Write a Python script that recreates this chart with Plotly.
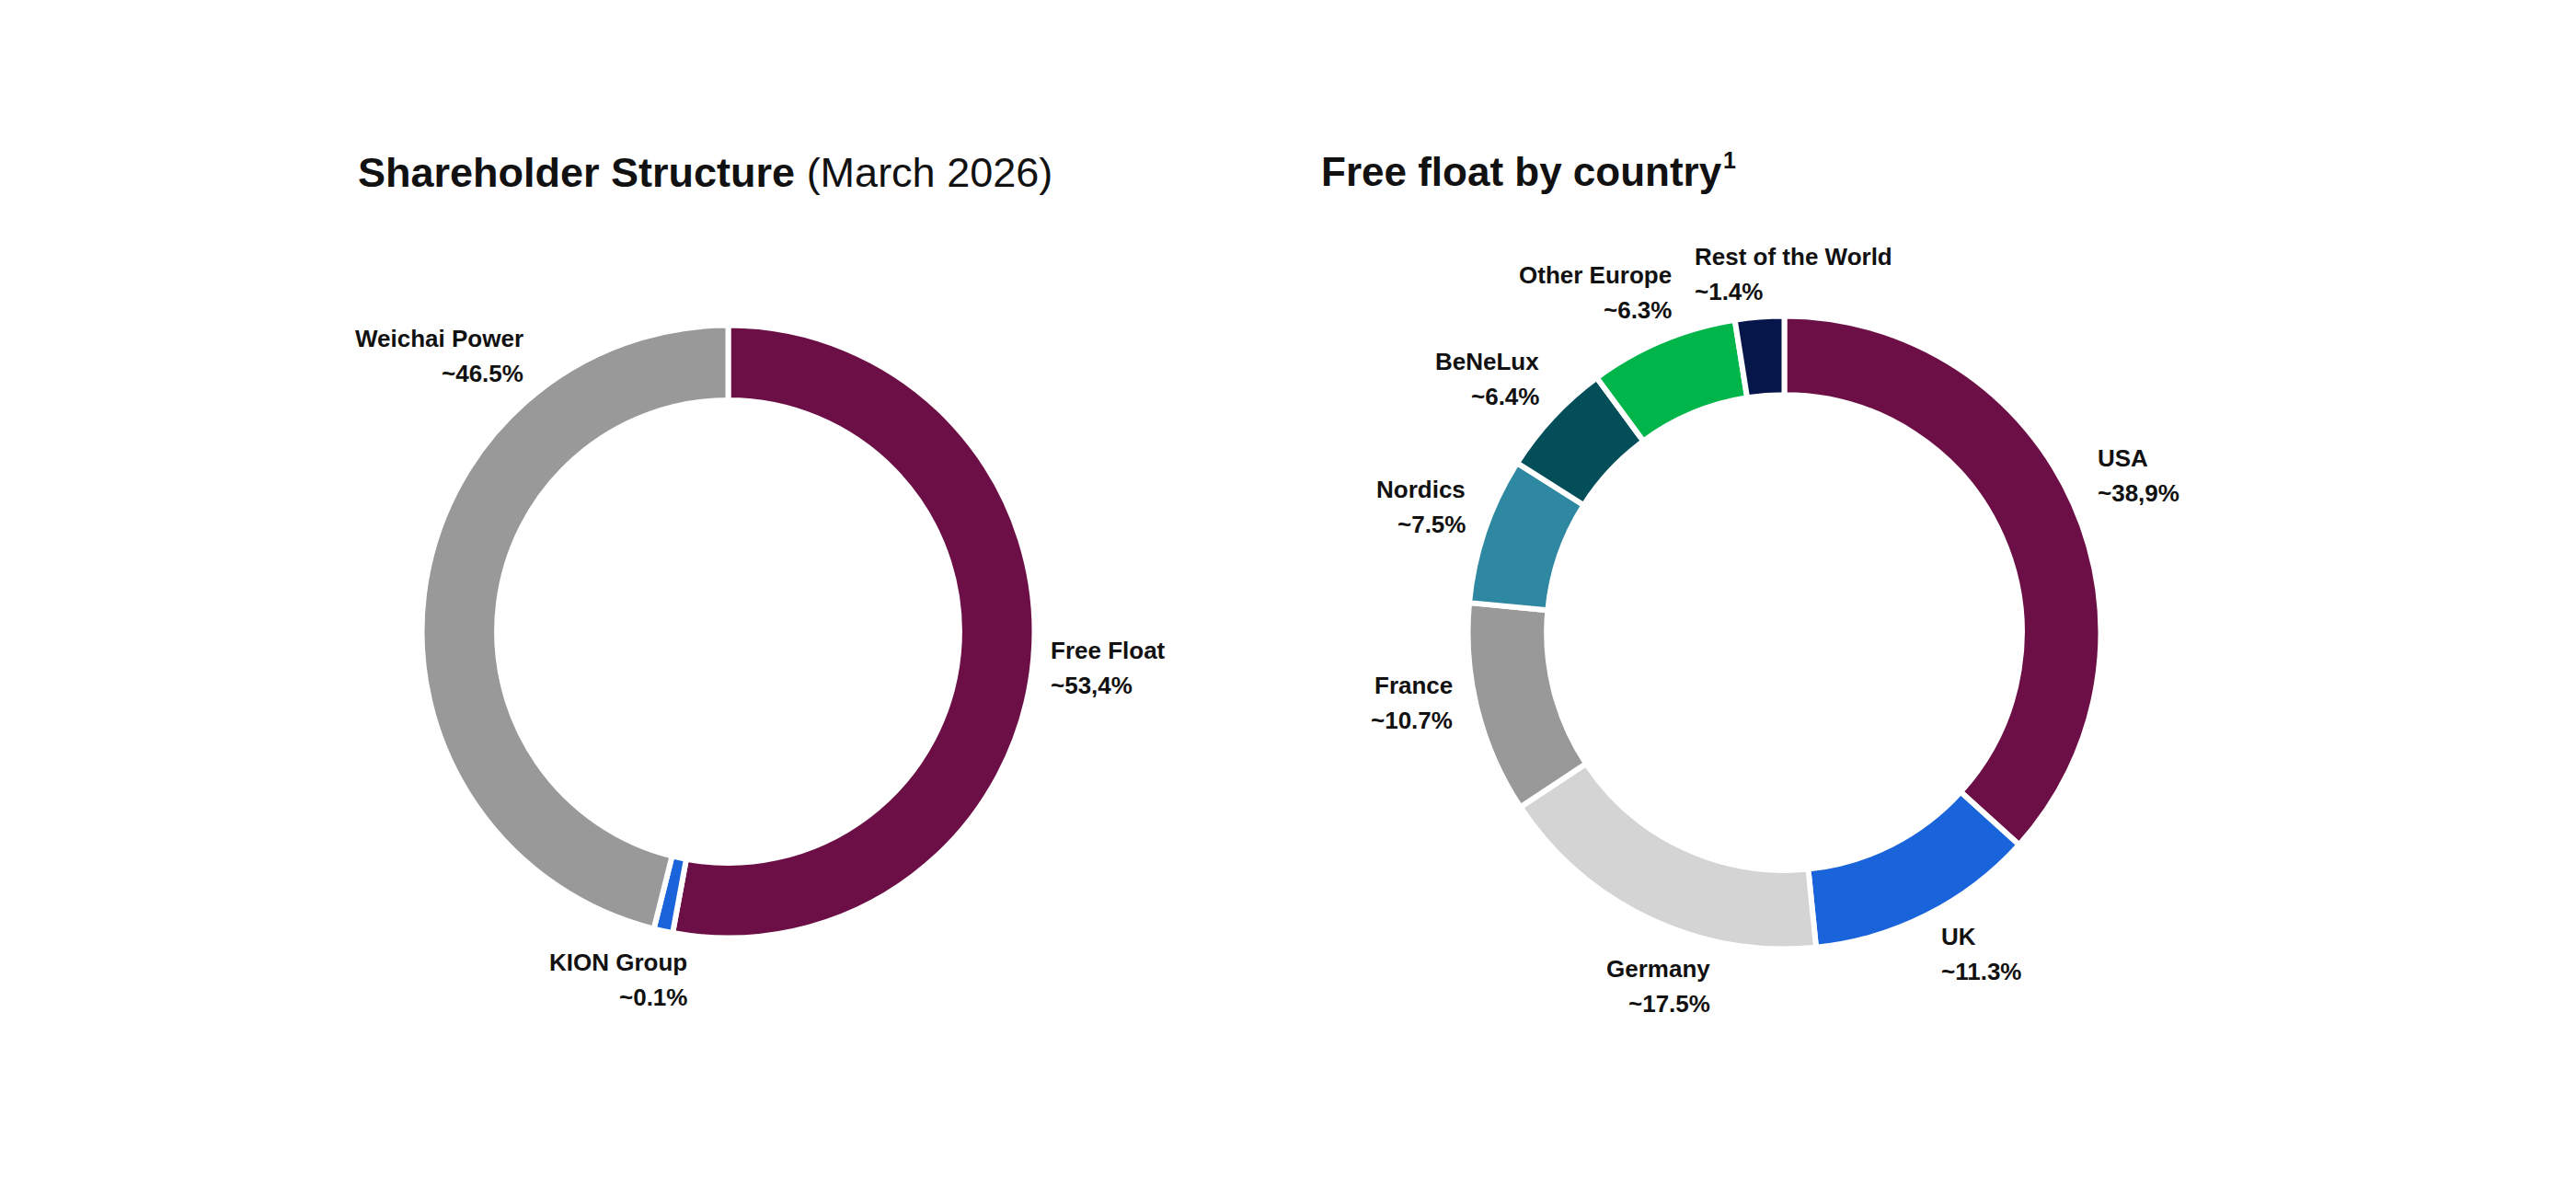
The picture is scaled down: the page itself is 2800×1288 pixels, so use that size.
import plotly.graph_objects as go

W, H = 2800, 1288
OFF = 8  # page body margin in the browser

# ---------------- data ----------------
holders = ["Free Float", "KION Group", "Weichai Power"]
holder_labels = ["~53,4%", "~0.1%", "~46.5%"]
holder_slices = [52.9, 1.0, 46.1]          # slice sizes as drawn
holder_colors = ["#6C0F47", "#1A64DB", "#999999"]

countries = ["USA", "UK", "Germany", "France", "Nordics", "BeNeLux",
             "Other Europe", "Rest of the World"]
country_labels = ["~38,9%", "~11.3%", "~17.5%", "~10.7%", "~7.5%", "~6.4%",
                  "~6.3%", "~1.4%"]
country_slices = [36.7, 11.7, 17.3, 10.8, 7.5, 5.9, 7.6, 2.5]  # as drawn
country_colors = ["#6C0F47", "#1A64DB", "#D4D4D4", "#999999", "#2F88A1",
                  "#044E5A", "#00B64A", "#06164A"]

# ---------------- layout helpers (pixels) ----------------
FONT = "Liberation Sans, Arial, Helvetica, sans-serif"
LABEL_SIZE = 26
LINE_GAP = 38

def px_x(x):
    return (x - OFF) / W

def px_y(y):
    return 1 - (y - OFF) / H

def px_domain(cx, cy, r):
    return dict(x=[px_x(cx - r), px_x(cx + r)],
                y=[px_y(cy + r), px_y(cy - r)])

# label anchor points: (x, first-line baseline, side)
holder_pos = [(1140, 716, "left"), (749, 1055, "right"), (571, 377, "right")]
country_pos = [(2278, 507, "left"), (2108, 1027, "left"), (1861, 1062, "right"),
               (1581, 754, "right"), (1595, 541, "right"), (1675, 402, "right"),
               (1819, 308, "right"), (1840, 288, "left")]

fig = go.Figure()
fig.add_trace(go.Pie(
    labels=holders, values=holder_slices, sort=False, direction="clockwise",
    rotation=0, hole=0.755, textinfo="none", hoverinfo="label",
    marker=dict(colors=holder_colors, line=dict(color="white", width=6)),
    domain=px_domain(791.5, 686.5, 333), showlegend=False))
fig.add_trace(go.Pie(
    labels=countries, values=country_slices, sort=False, direction="clockwise",
    rotation=0, hole=0.751, textinfo="none", hoverinfo="label",
    marker=dict(colors=country_colors, line=dict(color="white", width=6)),
    domain=px_domain(1939.5, 687.5, 344), showlegend=False))

annotations = []

def add_text(text, x, baseline, side, size, bold=True):
    annotations.append(dict(
        text=("<b>%s</b>" % text) if bold else text,
        x=px_x(x), y=px_y(baseline - 0.33 * size),
        xref="paper", yref="paper", xanchor=side, yanchor="middle",
        showarrow=False, align=side,
        font=dict(family=FONT, size=size, color="#111111")))

for names, labs, pos in ((holders, holder_labels, holder_pos),
                         (countries, country_labels, country_pos)):
    for n, l, (x, b, side) in zip(names, labs, pos):
        add_text(n, x, b, side, LABEL_SIZE)
        add_text(l, x, b + LINE_GAP, side, LABEL_SIZE)

add_text("<b>Shareholder Structure</b> (March 2026)", 387, 202, "left", 45,
         bold=False)
add_text("Free float by country", 1434, 201, "left", 44)
add_text("1", 1871, 182, "left", 25)

fig.update_layout(
    width=W, height=H, margin=dict(l=0, r=0, t=0, b=0),
    paper_bgcolor="white", plot_bgcolor="white",
    annotations=annotations, showlegend=False)

fig.write_html("out.html")
